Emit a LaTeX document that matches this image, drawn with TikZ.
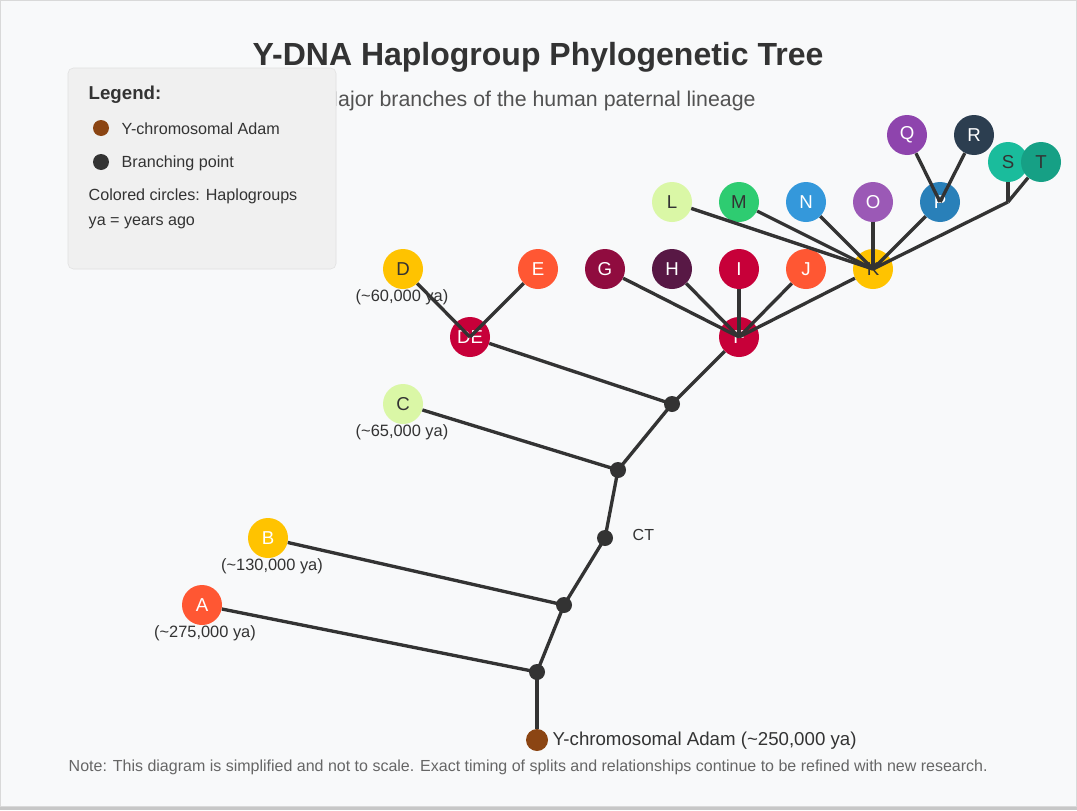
\documentclass[tikz,border=0pt]{standalone}
\usepackage{fontspec}
\setmainfont{Liberation Sans}
\definecolor{ink}{HTML}{333333}
\definecolor{page}{HTML}{F8F9FA}
\definecolor{adamcol}{HTML}{8B4513}
\definecolor{tomato}{HTML}{FF5733}
\definecolor{amber}{HTML}{FFC300}
\definecolor{lime}{HTML}{DAF7A6}
\definecolor{crimson}{HTML}{C70039}
\definecolor{wine}{HTML}{900C3F}
\definecolor{plum}{HTML}{581845}
\definecolor{emerald}{HTML}{2ECC71}
\definecolor{sky}{HTML}{3498DB}
\definecolor{amethyst}{HTML}{9B59B6}
\definecolor{ocean}{HTML}{2980B9}
\definecolor{violet}{HTML}{8E44AD}
\definecolor{navy}{HTML}{2C3E50}
\definecolor{teal}{HTML}{1ABC9C}
\definecolor{deepteal}{HTML}{16A085}
\begin{document}
\begin{tikzpicture}[x=0.75pt,y=-0.75pt,
  hap/.style={circle, fill=#1, minimum size=30pt, inner sep=0pt, text=white, font=\fontsize{14}{16}\selectfont},
  dark/.style={text=ink},
  split/.style={circle, fill=ink, minimum size=12pt, inner sep=0pt},
  age/.style={text=ink, font=\fontsize{12.3}{14}\selectfont},
  link/.style={ink, line width=2.5pt},
  keytext/.style={anchor=west, text=ink, font=\fontsize{12.1}{14}\selectfont}]
\useasboundingbox (0,0) rectangle (1077,810);
\fill[page] (0,0) rectangle (1077,810);
\fill[black!22] (0,806) rectangle (1077,810);
\draw[black!15, line width=0.75pt] (0.5,0.5) rectangle (1076.5,806);

\node[text=ink, font=\fontsize{24}{28}\selectfont\bfseries] (title) at (538,57) {Y-DNA Haplogroup Phylogenetic Tree};
\node[text=ink!85, font=\fontsize{16}{19}\selectfont] (subtitle) at (538,101) {Major branches of the human paternal lineage};

\node[split] (b1) at (537,672) {};
\node[split] (b2) at (564,605) {};
\node[split] (b3) at (605,538) {};
\node[split] (b4) at (618,470) {};
\node[split] (b5) at (672,404) {};
\node[circle, fill=adamcol, minimum size=16.5pt, inner sep=0pt] (adam) at (537,740) {};
\node[anchor=west, text=ink, font=\fontsize{14}{16}\selectfont] (adamlabel) at (548,741) {Y-chromosomal Adam (\textasciitilde 250,000 ya)};
\node[anchor=west, text=ink, font=\fontsize{12}{14}\selectfont] (ct) at (628,535) {CT};

\node[hap=tomato] (A) at (202,605) {A};
\node[hap=amber] (B) at (268,538) {B};
\node[hap=lime, dark] (C) at (403,404) {C};
\node[hap=crimson] (DE) at (470,337) {DE};
\node[hap=amber, dark] (D) at (403,269) {D};
\node[hap=tomato] (E) at (538,269) {E};
\node[hap=crimson] (F) at (739,337) {F};
\node[hap=wine] (G) at (605,269) {G};
\node[hap=plum] (H) at (672,269) {H};
\node[hap=crimson] (I) at (739,269) {I};
\node[hap=tomato] (J) at (806,269) {J};
\node[hap=amber, dark] (K) at (873,269) {K};
\node[hap=lime, dark] (L) at (672,202) {L};
\node[hap=emerald, dark] (M) at (739,202) {M};
\node[hap=sky] (N) at (806,202) {N};
\node[hap=amethyst] (O) at (873,202) {O};
\node[hap=ocean] (P) at (940,202) {P};
\node[hap=violet] (Q) at (907,135) {Q};
\node[hap=navy] (R) at (974,135) {R};
\node[hap=teal, dark] (S) at (1008,162) {S};
\node[hap=deepteal, dark] (T) at (1041,162) {T};
\coordinate (st) at (1008,202);

\node[age] (ageA) at (205,633) {(\textasciitilde 275,000 ya)};
\node[age] (ageB) at (272,566) {(\textasciitilde 130,000 ya)};
\node[age] (ageC) at (402,432) {(\textasciitilde 65,000 ya)};
\node[age] (ageD) at (402,297) {(\textasciitilde 60,000 ya)};

\draw[link] (b1.center) -- (adam);
\draw[link] (b1.center) -- (A);
\draw[link] (b1.center) -- (b2.center);
\draw[link] (b2.center) -- (B);
\draw[link] (b2.center) -- (b3.center);
\draw[link] (b3.center) -- (b4.center);
\draw[link] (b4.center) -- (C);
\draw[link] (b4.center) -- (b5.center);
\draw[link] (b5.center) -- (DE);
\draw[link] (b5.center) -- (F);
\draw[link] (DE.center) -- (D);
\draw[link] (DE.center) -- (E);
\foreach \kid in {G,H,I,J,K}
  \draw[link] (F.center) -- (\kid);
\foreach \kid in {L,M,N,O,P}
  \draw[link] (K.center) -- (\kid);
\draw[link] (K.center) -- (st);
\draw[link] (st) -- (S);
\draw[link] (st) -- (T);
\draw[link] (P.center) -- (Q);
\draw[link] (P.center) -- (R);

\draw[black!12, fill=black!6, rounded corners=4pt] (68,68) rectangle (336,269);
\node[anchor=west, text=ink, font=\fontsize{14}{16}\selectfont\bfseries] (keyhead) at (84,95) {Legend:};
\node[circle, fill=adamcol, minimum size=12pt, inner sep=0pt] (keyadam) at (101,128) {};
\node[keytext] (keyadamtext) at (117,129) {Y-chromosomal Adam};
\node[circle, fill=ink, minimum size=12pt, inner sep=0pt] (keysplit) at (101,162) {};
\node[keytext] (keysplittext) at (117,163) {Branching point};
\node[keytext] (keycolors) at (84,196) {Colored circles: Haplogroups};
\node[keytext] (keyya) at (84,223) {ya = years ago};

\node[anchor=west, text=black!60, font=\fontsize{12}{14}\selectfont] (note) at (64,767) {Note: This diagram is simplified and not to scale. Exact timing of splits and relationships continue to be refined with new research.};
\end{tikzpicture}
\end{document}
